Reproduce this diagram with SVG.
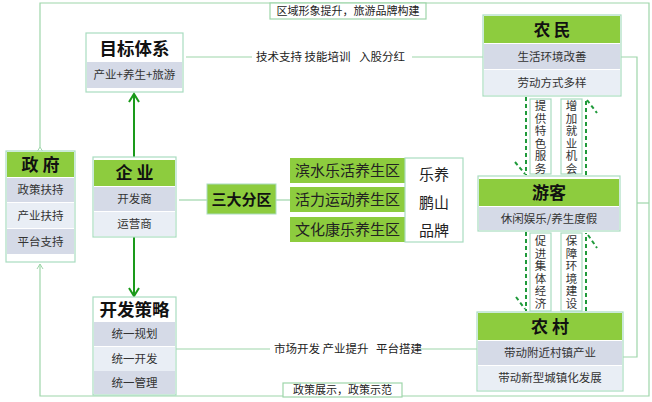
<svg xmlns="http://www.w3.org/2000/svg" width="652" height="402" viewBox="0 0 652 402">
<defs>
<style>
text{font-family:"Noto Sans CJK SC","Noto Sans",sans-serif;fill:#222;}
.hd{font-weight:bold;fill:#111;text-anchor:middle;}
.row{font-size:11.5px;text-anchor:middle;fill:#333;}
.g{fill:#8dcc3e;}
.d{fill:#d5dae7;}
.l{fill:#e9eef5;}
.box{fill:#fff;stroke:#a9dcc0;stroke-width:1.2;}
.fr{fill:none;stroke:#9ed6aa;stroke-width:1.2;}
.lbl{font-size:11.5px;}
.dash{stroke:#1f9a3a;stroke-width:2;stroke-dasharray:4 3;fill:none;}
.vt{font-size:11.5px;fill:#333;writing-mode:vertical-rl;letter-spacing:1px;}
.zn{font-size:15px;text-anchor:middle;}
</style>
<marker id="ah" markerWidth="8" markerHeight="8" refX="6" refY="4" orient="auto" markerUnits="userSpaceOnUse"><path d="M1,1 L6,4 L1,7" fill="none" stroke="#9ed6aa" stroke-width="1"/></marker>
<marker id="gah" markerWidth="14" markerHeight="14" refX="11" refY="7" orient="auto" markerUnits="userSpaceOnUse"><path d="M3,2 L11,7 L3,12" fill="none" stroke="#1a9a1a" stroke-width="2"/></marker>
</defs>

<g id="connectors">
<polyline class="fr" points="40,147 40,3 649,3 649,396 40,396 40,264" marker-start="url(#ah)" marker-end="url(#ah)"/>
<polyline class="fr" points="620,57 637,57 637,357 622,357"/>
<line class="fr" x1="637" y1="203" x2="649" y2="203"/>
<line x1="134" y1="157" x2="134" y2="94" stroke="#1a9a1a" stroke-width="2" marker-end="url(#gah)"/>
<line x1="134" y1="237" x2="134" y2="296" stroke="#1a9a1a" stroke-width="2" marker-end="url(#gah)"/>
<line class="fr" x1="179" y1="200" x2="207" y2="200"/>
<line class="fr" x1="276" y1="200" x2="290" y2="200"/>
<line class="fr" x1="186" y1="57" x2="252" y2="57"/>
<line class="fr" x1="412" y1="57" x2="483" y2="57"/>
<text x="256" y="61" class="lbl">技术支持 技能培训<tspan x="359">入股分红</tspan></text>
<line class="fr" x1="176" y1="349" x2="270" y2="349"/>
<line class="fr" x1="420" y1="349" x2="477" y2="349"/>
<text x="274" y="353" class="lbl">市场开发 产业提升<tspan x="376">平台搭建</tspan></text>
<line class="dash" x1="526" y1="97" x2="526" y2="175"/>
<line class="dash" x1="515" y1="162" x2="525" y2="174"/>
<line class="dash" x1="586" y1="175" x2="586" y2="98"/>
<line class="dash" x1="587" y1="100" x2="597" y2="113"/>
<line class="dash" x1="526" y1="232" x2="526" y2="311"/>
<line class="dash" x1="516" y1="297" x2="525" y2="309"/>
<line class="dash" x1="586" y1="311" x2="586" y2="233"/>
<line class="dash" x1="588" y1="235" x2="597" y2="248"/>
</g>

<g id="label-top">
<rect x="270" y="3" width="156" height="16" fill="#fff" stroke="#9ed6aa" stroke-width="1.2"/>
<text x="348" y="15" font-size="11" text-anchor="middle">区域形象提升，旅游品牌构建</text>
</g>
<g id="label-bottom">
<rect x="283" y="383" width="119" height="14" fill="#fff" stroke="#9ed6aa" stroke-width="1.2"/>
<text x="342.5" y="394" font-size="11" text-anchor="middle">政策展示，政策示范</text>
</g>

<g id="gov">
<rect class="box" x="6" y="151" width="69" height="111"/>
<rect class="g" x="7" y="152" width="67" height="25"/>
<text x="40.5" y="170.5" class="hd" font-size="17">政 府</text>
<rect class="d" x="7" y="178" width="67" height="24"/>
<text x="40.5" y="194" class="row">政策扶持</text>
<rect class="l" x="7" y="203" width="67" height="25"/>
<text x="40.5" y="219.5" class="row">产业扶持</text>
<rect class="d" x="7" y="229" width="67" height="25"/>
<text x="40.5" y="245.5" class="row">平台支持</text>
</g>

<g id="target">
<rect class="box" x="86" y="33" width="97" height="59"/>
<text x="134.5" y="55" class="hd" font-size="17.5">目标体系</text>
<rect class="d" x="87" y="62" width="95" height="26"/>
<text x="134.5" y="79" class="row">产业+养生+旅游</text>
</g>

<g id="enterprise">
<rect class="box" x="93" y="157" width="83" height="80"/>
<rect class="g" x="94" y="160" width="81" height="26"/>
<text x="134.5" y="179" class="hd" font-size="17">企 业</text>
<rect class="d" x="94" y="187" width="81" height="24"/>
<text x="134.5" y="203" class="row">开发商</text>
<rect class="l" x="94" y="212" width="81" height="24"/>
<text x="134.5" y="228" class="row">运营商</text>
</g>

<g id="strategy">
<rect class="box" x="93" y="297" width="83" height="98"/>
<text x="134.5" y="316" class="hd" font-size="17.5">开发策略</text>
<rect class="d" x="94" y="322" width="81" height="24"/>
<text x="134.5" y="338" class="row">统一规划</text>
<rect class="l" x="94" y="347" width="81" height="24"/>
<text x="134.5" y="363" class="row">统一开发</text>
<rect class="d" x="94" y="371" width="81" height="23"/>
<text x="134.5" y="386.5" class="row">统一管理</text>
</g>

<g id="zones">
<rect x="207" y="184" width="69" height="30" fill="#8dcc3e" stroke="#a9dcc0" stroke-width="1"/>
<text x="241.5" y="204.5" class="hd" font-size="15">三大分区</text>
</g>

<g id="zone1">
<rect x="290" y="158" width="115" height="25" fill="#8dcc3e"/>
<text x="347.5" y="176" class="zn">滨水乐活养生区</text>
</g>
<g id="zone2">
<rect x="290" y="187" width="115" height="25" fill="#8dcc3e"/>
<text x="347.5" y="205" class="zn">活力运动养生区</text>
</g>
<g id="zone3">
<rect x="290" y="217" width="115" height="25" fill="#8dcc3e"/>
<text x="347.5" y="235" class="zn">文化康乐养生区</text>
</g>
<g id="brand">
<rect class="box" x="405" y="158" width="58" height="84"/>
<text x="434" y="180" font-size="15" text-anchor="middle">乐养</text>
<text x="434" y="208" font-size="15" text-anchor="middle">鹏山</text>
<text x="434" y="236" font-size="15" text-anchor="middle">品牌</text>
</g>

<g id="farmer">
<rect class="box" x="483" y="15" width="138" height="81"/>
<rect class="g" x="484" y="16" width="136" height="27"/>
<text x="552" y="35.5" class="hd" font-size="16.5">农 民</text>
<rect class="d" x="484" y="44" width="136" height="25"/>
<text x="552" y="60.5" class="row">生活环境改善</text>
<rect class="l" x="484" y="70" width="136" height="25"/>
<text x="552" y="86.5" class="row">劳动方式多样</text>
</g>

<g id="tourist">
<rect class="box" x="478" y="176" width="142" height="55"/>
<rect class="g" x="479" y="179" width="140" height="27"/>
<text x="549" y="198.5" class="hd" font-size="17">游客</text>
<rect class="d" x="479" y="207" width="140" height="23"/>
<text x="549" y="222.5" class="row">休闲娱乐/养生度假</text>
</g>

<g id="village">
<rect class="box" x="477" y="312" width="146" height="79"/>
<rect class="g" x="478" y="313" width="144" height="27"/>
<text x="550" y="333" class="hd" font-size="17">农 村</text>
<rect class="d" x="478" y="341" width="144" height="24"/>
<text x="550" y="357" class="row">带动附近村镇产业</text>
<rect class="l" x="478" y="366" width="144" height="24"/>
<text x="550" y="382" class="row">带动新型城镇化发展</text>
</g>

<g id="v1">
<rect class="box" x="530" y="99" width="21" height="75"/>
<text class="vt" x="540.5" y="100">提供特色服务</text>
</g>
<g id="v2">
<rect class="box" x="561" y="99" width="21" height="75"/>
<text class="vt" x="571.5" y="100">增加就业机会</text>
</g>
<g id="v3">
<rect class="box" x="530" y="233" width="21" height="78"/>
<text class="vt" x="540.5" y="235">促进集体经济</text>
</g>
<g id="v4">
<rect class="box" x="561" y="233" width="21" height="78"/>
<text class="vt" x="571.5" y="235">保障环境建设</text>
</g>
</svg>
